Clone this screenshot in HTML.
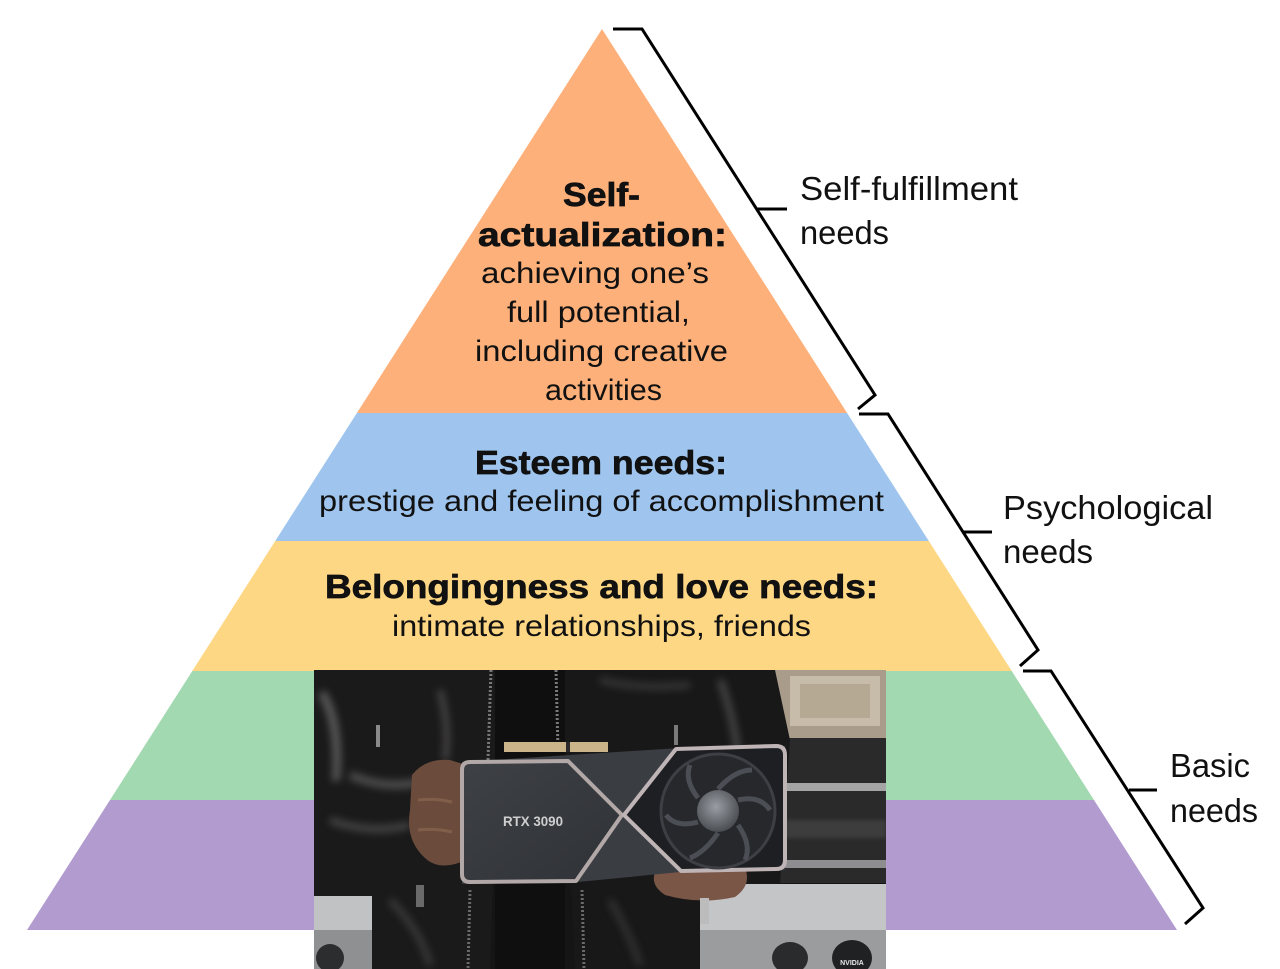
<!DOCTYPE html>
<html>
<head>
<meta charset="utf-8">
<style>
  html,body{margin:0;padding:0;background:#ffffff;}
  body{width:1280px;height:969px;overflow:hidden;}
  svg{display:block;}
  .b{font-family:"Liberation Sans",sans-serif;font-weight:bold;font-size:33px;fill:#111;stroke:#111;stroke-width:0.7px;}
  .r{font-family:"Liberation Sans",sans-serif;font-size:30px;fill:#111;}
  .l{font-family:"Liberation Sans",sans-serif;font-size:33px;fill:#111;}
</style>
</head>
<body>
<svg width="1280" height="969" viewBox="0 0 1280 969" xmlns="http://www.w3.org/2000/svg">
  <defs>
    <filter id="blur4" x="-50%" y="-50%" width="200%" height="200%"><feGaussianBlur stdDeviation="4"/></filter>
    <filter id="blur2" x="-50%" y="-50%" width="200%" height="200%"><feGaussianBlur stdDeviation="2"/></filter>
    <radialGradient id="hub" cx="0.45" cy="0.4" r="0.6">
      <stop offset="0" stop-color="#9a9da3"/>
      <stop offset="1" stop-color="#4a4d52"/>
    </radialGradient>
    <linearGradient id="leftPanel" x1="0" y1="0" x2="1" y2="1">
      <stop offset="0" stop-color="#3e4146"/>
      <stop offset="1" stop-color="#2f3237"/>
    </linearGradient>
    <clipPath id="photoClip"><rect x="314" y="670" width="572" height="299"/></clipPath>
  </defs>

  <!-- Pyramid layers -->
  <polygon points="602,29 847.1,413 356.9,413" fill="#fdb07a"/>
  <polygon points="356.9,413 847.1,413 928.8,541 275.2,541" fill="#9fc5ee"/>
  <polygon points="275.2,541 928.8,541 1011.7,671 192.3,671" fill="#fed784"/>
  <polygon points="192.3,671 1011.7,671 1094,800 110,800" fill="#a3d9b1"/>
  <polygon points="110,800 1094,800 1177,930 27,930" fill="#b29ccf"/>

  <!-- Brackets -->
  <g fill="none" stroke="#000" stroke-width="3" stroke-linejoin="miter">
    <polyline points="613,29 642,29 875,395 858,409"/>
    <line x1="757" y1="209" x2="787" y2="209"/>
    <polyline points="859,414 888,414 1038,650 1020,666"/>
    <line x1="963" y1="532" x2="992" y2="532"/>
    <polyline points="1023,671 1051,671 1203,908 1185,924"/>
    <line x1="1129" y1="790" x2="1157" y2="790"/>
  </g>

  <!-- Right labels -->
  <text class="l" x="800" y="200" textLength="218" lengthAdjust="spacingAndGlyphs">Self-fulfillment</text>
  <text class="l" x="800" y="244" textLength="89" lengthAdjust="spacingAndGlyphs">needs</text>
  <text class="l" x="1003" y="519" textLength="210" lengthAdjust="spacingAndGlyphs">Psychological</text>
  <text class="l" x="1003" y="563" textLength="90" lengthAdjust="spacingAndGlyphs">needs</text>
  <text class="l" x="1170" y="777" textLength="80" lengthAdjust="spacingAndGlyphs">Basic</text>
  <text class="l" x="1170" y="822" textLength="88" lengthAdjust="spacingAndGlyphs">needs</text>

  <!-- Self-actualization text -->
  <text class="b" x="563" y="206" textLength="77" lengthAdjust="spacingAndGlyphs">Self-</text>
  <text class="b" x="478" y="246" textLength="249" lengthAdjust="spacingAndGlyphs">actualization:</text>
  <text class="r" x="481" y="283" textLength="228" lengthAdjust="spacingAndGlyphs">achieving one’s</text>
  <text class="r" x="507" y="322" textLength="183" lengthAdjust="spacingAndGlyphs">full potential,</text>
  <text class="r" x="475" y="361" textLength="253" lengthAdjust="spacingAndGlyphs">including creative</text>
  <text class="r" x="545" y="400" textLength="117" lengthAdjust="spacingAndGlyphs">activities</text>

  <!-- Esteem -->
  <text class="b" x="475" y="474" textLength="252" lengthAdjust="spacingAndGlyphs">Esteem needs:</text>
  <text class="r" x="319" y="511" textLength="565" lengthAdjust="spacingAndGlyphs">prestige and feeling of accomplishment</text>

  <!-- Belonging -->
  <text class="b" x="325" y="598" textLength="553" lengthAdjust="spacingAndGlyphs">Belongingness and love needs:</text>
  <text class="r" x="392" y="636" textLength="419" lengthAdjust="spacingAndGlyphs">intimate relationships, friends</text>

  <!-- Photo -->
  <g clip-path="url(#photoClip)">
    <rect x="314" y="670" width="572" height="299" fill="#161515"/>
    <!-- right background: cabinet -->
    <rect x="766" y="670" width="120" height="68" fill="#a99c8b"/>
    <rect x="790" y="676" width="90" height="50" fill="#c7bca9"/>
    <rect x="800" y="684" width="70" height="34" fill="#b5a994"/>
    <!-- stove back right -->
    <rect x="780" y="738" width="106" height="145" fill="#2a2a2b"/>
    <rect x="784" y="783" width="102" height="8" fill="#a5a5a6"/>
    <rect x="784" y="820" width="102" height="18" fill="#3c3c3e" filter="url(#blur2)"/>
    <rect x="784" y="860" width="102" height="8" fill="#8e8e90"/>
    <!-- silver band bottom right -->
    <rect x="700" y="884" width="186" height="46" fill="#c4c5c7"/>
    <rect x="700" y="930" width="186" height="39" fill="#9b9c9e"/>
    <ellipse cx="790" cy="958" rx="18" ry="16" fill="#2a2b2d"/>
    <ellipse cx="852" cy="958" rx="20" ry="18" fill="#202123"/>
    <text x="852" y="965" font-family="Liberation Sans, sans-serif" font-size="7" font-weight="bold" fill="#e8e8e8" text-anchor="middle">NVIDIA</text>
    <!-- stove left bottom -->
    <rect x="314" y="896" width="60" height="34" fill="#c1c2c4"/>
    <rect x="314" y="930" width="60" height="39" fill="#8f9092"/>
    <ellipse cx="330" cy="958" rx="14" ry="14" fill="#2c2d2f"/>
    <!-- jacket body -->
    <path d="M314,670 L500,670 L490,969 L372,969 L372,896 L314,896 Z" fill="#1b1a1a"/>
    <path d="M560,670 L775,670 L790,740 L780,884 L700,884 L700,969 L575,969 Z" fill="#191818"/>
    <rect x="495" y="670" width="70" height="299" fill="#0f0f0f"/>
    <!-- jacket highlights -->
    <g filter="url(#blur4)" opacity="0.55">
      <path d="M325,690 Q345,720 340,780 L332,782 Q336,725 318,695 Z" fill="#8a8a8a"/>
      <path d="M350,775 Q385,790 420,782" stroke="#7a7a7a" stroke-width="8" fill="none"/>
      <path d="M330,820 Q370,835 410,825" stroke="#6a6a6a" stroke-width="7" fill="none"/>
      <path d="M440,690 Q450,730 445,760" stroke="#6e6e6e" stroke-width="6" fill="none"/>
      <path d="M720,680 Q735,720 740,770" stroke="#6a6a6a" stroke-width="7" fill="none"/>
      <path d="M600,680 Q640,690 690,685" stroke="#555" stroke-width="6" fill="none"/>
      <path d="M390,900 Q420,930 430,965" stroke="#5a5a5a" stroke-width="6" fill="none"/>
      <path d="M610,900 Q630,935 640,965" stroke="#4c4c4c" stroke-width="6" fill="none"/>
    </g>
    <!-- zippers -->
    <line x1="491" y1="670" x2="488" y2="760" stroke="#7a7a7a" stroke-width="3" stroke-dasharray="2,2"/>
    <line x1="556" y1="670" x2="558" y2="750" stroke="#7a7a7a" stroke-width="3" stroke-dasharray="2,2"/>
    <line x1="470" y1="890" x2="468" y2="969" stroke="#6a6a6a" stroke-width="3" stroke-dasharray="2,2"/>
    <line x1="582" y1="890" x2="584" y2="969" stroke="#6a6a6a" stroke-width="3" stroke-dasharray="2,2"/>
    <rect x="376" y="725" width="4" height="22" fill="#8a8a8a"/>
    <rect x="674" y="725" width="4" height="20" fill="#7a7a7a"/>
    <rect x="416" y="885" width="8" height="22" fill="#6a6a6a"/>

    <!-- left hand -->
    <path d="M412,775 Q425,758 450,760 L466,765 L466,860 Q440,872 425,858 Q405,840 410,810 Z" fill="#6b4c3c"/>
    <path d="M418,800 Q435,798 452,802" stroke="#8a6650" stroke-width="3" fill="none" opacity="0.7"/>
    <path d="M418,830 Q435,828 452,832" stroke="#8a6650" stroke-width="3" fill="none" opacity="0.7"/>
    <!-- right hand -->
    <path d="M655,872 Q700,862 745,868 Q752,885 735,897 Q700,905 665,895 Q650,885 655,872 Z" fill="#7a5646"/>
    <rect x="700" y="898" width="9" height="26" fill="#bcbcbc"/>

    <!-- card body -->
    <polygon points="462,762 570,755 680,748 785,746 785,870 680,872 578,882 462,884" fill="#3a3d42"/>
    <!-- gold connector -->
    <rect x="504" y="742" width="104" height="10" fill="#cbb489"/>
    <rect x="566" y="742" width="4" height="10" fill="#2a2a2a"/>
    <!-- left panel -->
    <path d="M470,762 L568,761 L622,815 L576,881 L470,882 Q462,882 462,874 L462,770 Q462,762 470,762 Z" fill="url(#leftPanel)" stroke="#b3a8a8" stroke-width="4" stroke-linejoin="round"/>
    <!-- right panel -->
    <path d="M624,815 L676,749 L776,746 Q785,746 785,755 L785,860 Q785,869 776,869 L681,871 Z" fill="#1e1f23" stroke="#bfb4b6" stroke-width="4" stroke-linejoin="round"/>
    <!-- fan -->
    <circle cx="718" cy="811" r="57" fill="#26282c" stroke="#3d3f44" stroke-width="3"/>
    <g fill="none" stroke="#4b4e54" stroke-width="5">
      <path d="M718,789 Q735,770 752,770"/>
      <path d="M738,800 Q760,795 770,810"/>
      <path d="M738,825 Q752,845 745,860"/>
      <path d="M718,833 Q705,852 690,858"/>
      <path d="M698,822 Q676,828 666,815"/>
      <path d="M698,798 Q684,780 690,765"/>
    </g>
    <circle cx="718" cy="811" r="21" fill="url(#hub)"/>
    <text x="503" y="826" font-family="Liberation Sans, sans-serif" font-size="14" font-weight="bold" fill="#cfcfcf" textLength="60" lengthAdjust="spacingAndGlyphs">RTX 3090</text>
  </g>
</svg>
</body>
</html>
